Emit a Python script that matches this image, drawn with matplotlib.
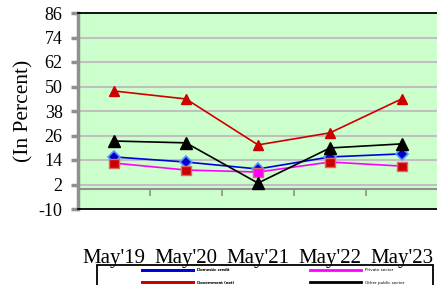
import numpy as np
import matplotlib
matplotlib.use('Agg')
import matplotlib.pyplot as plt
from matplotlib.lines import Line2D
from matplotlib.patches import Rectangle

months = ["May'19", "May'20", "May'21", "May'22", "May'23"]
domestic = [15.5, 13.0, 9.6, 15.5, 17.0]
private = [12.5, 9.1, 8.1, 13.0, 11.0]
government = [47.8, 43.9, 21.4, 27.3, 44.0]
other_public = [23.3, 22.4, 2.7, 19.9, 21.9]
y_ticks = [-10, 2, 14, 26, 38, 50, 62, 74, 86]

W, H = 437, 285
fig = plt.figure(figsize=(W / 100, H / 100), dpi=100)
ax = fig.add_axes([78 / W, (H - 209) / H, 360 / W, 196 / H])
ax.set_facecolor('#ccffcc')

x = np.arange(len(months)) + 0.5
ax.set_xlim(0, len(months))
ax.set_ylim(y_ticks[0], y_ticks[-1])

for v in y_ticks[1:-1]:
    ax.axhline(v, color='#c0c0c0', lw=1.5, zorder=1)
ax.axhline(0, color='#909090', lw=1.5, zorder=1)
ax.vlines(np.arange(1, len(months)), -3.5, 0, color='#909090', lw=1.2, zorder=1)

ax.plot(x, domestic, color='#0000dd', lw=1.2, marker='D', ms=6,
        mfc='#0000cc', mec='#5599ff', mew=1.2, zorder=3)
ax.plot(x, private, color='#ff00ff', lw=1.2, zorder=3)
sq_colors = ['#cc0000'] * len(months)
sq_colors[2] = '#ff00ff'
ax.scatter(x, private, marker='s', s=42, c=sq_colors, edgecolors='#dd6666',
           linewidths=1.0, zorder=4)
ax.plot(x, government, color='#cc0000', lw=1.2, marker='^', ms=7,
        mfc='#cc0000', mec='#cc0000', zorder=3)
ax.plot(x, other_public, color='#000000', lw=1.2, marker='^', ms=9,
        mfc='#000000', mec='#000000', zorder=5)

ax.set_yticks(y_ticks)
ax.set_yticklabels([str(v) for v in y_ticks], family='Liberation Serif', fontsize=13)
ax.tick_params(axis='y', length=5, width=2.5, color='#909090', pad=6)
ax.set_xticks(x)
ax.set_xticklabels(months, family='Liberation Serif', fontsize=15)
ax.tick_params(axis='x', length=0, pad=29)

ax.set_ylabel('(In Percent)', family='Liberation Serif', fontsize=15.5, labelpad=4)

ax.spines['left'].set_color('#909090')
ax.spines['left'].set_linewidth(2.5)
ax.spines['top'].set_linewidth(1.3)
ax.spines['bottom'].set_linewidth(1.3)
ax.spines['right'].set_visible(False)

# legend box (bottom is cut off by the image edge, as in the source)
fig.patches.append(Rectangle((97 / W, -0.05), 336 / W, 0.05 + (H - 265) / H,
                             transform=fig.transFigure, fill=False,
                             edgecolor='black', lw=1.3, clip_on=False))

leg_kw = dict(loc='upper left', fontsize=3, handlelength=12.3, handletextpad=1.0,
              borderpad=0, borderaxespad=0, labelspacing=2.1, frameon=False)
col1 = fig.legend([Line2D([], [], color='#0000dd', lw=2), Line2D([], [], color='#cc0000', lw=2)],
                  ['Domestic credit', 'Government (net)'],
                  bbox_to_anchor=(142 / W, (H - 268) / H), **leg_kw)
fig.add_artist(col1)
fig.legend([Line2D([], [], color='#ff00ff', lw=2), Line2D([], [], color='#000000', lw=2)],
           ['Private sector', 'Other public sector'],
           bbox_to_anchor=(310 / W, (H - 268) / H), **leg_kw)

fig.savefig('out.png', dpi=100)
